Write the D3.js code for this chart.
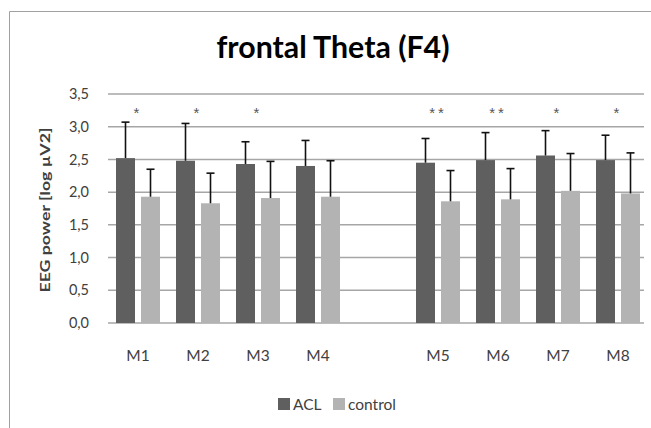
<!DOCTYPE html>
<html>
<head>
<meta charset="utf-8">
<script src="https://cdn.jsdelivr.net/npm/d3@7"></script>
<style>
  body { margin: 0; background: #fff; }
  text { font-family: Lato, "Open Sans", sans-serif; }
</style>
</head>
<body>
<div id="chart"></div>
<script>
// Chart data
const categories = ["M1", "M2", "M3", "M4", "M5", "M6", "M7", "M8"];
const slots = ["M1", "M2", "M3", "M4", "gap", "M5", "M6", "M7", "M8"];
const seriesNames = ["ACL", "control"];
const aclMean = [2.52, 2.48, 2.43, 2.40, 2.45, 2.49, 2.56, 2.49];
const aclSd = [0.55, 0.57, 0.34, 0.39, 0.37, 0.42, 0.38, 0.38];
const controlMean = [1.93, 1.83, 1.91, 1.93, 1.86, 1.89, 2.02, 1.98];
const controlSd = [0.42, 0.46, 0.56, 0.55, 0.47, 0.47, 0.57, 0.62];
const stars = ["*", "*", "*", "", "**", "**", "*", "*"];
const yTicks = [0, 0.5, 1, 1.5, 2, 2.5, 3, 3.5];

const width = 651;
const height = 428;
const plot = {left: 108, right: 648, top: 94, bottom: 323};

const svg = d3.select("#chart")
  .append("svg")
  .attr("width", width)
  .attr("height", height);

// Outer frame (left and top edges)
svg.append("path")
  .attr("d", `M9.5,${height} V11.5 H${width}`)
  .attr("fill", "none")
  .attr("stroke", "#a0a0a0")
  .attr("stroke-width", 1);

// Scales
const x = d3.scaleBand()
  .domain(slots)
  .range([plot.left, plot.right]);

const x1 = d3.scaleBand()
  .domain(seriesNames)
  .range([8, 52])
  .paddingInner(0.24);

const y = d3.scaleLinear()
  .domain([0, 3.5])
  .range([plot.bottom, plot.top]);

const color = d3.scaleOrdinal()
  .domain(seriesNames)
  .range(["#5f5f5f", "#b3b3b3"]);

// Title
svg.append("text")
  .attr("x", 333)
  .attr("y", 58)
  .attr("text-anchor", "middle")
  .attr("textLength", 233)
  .attr("lengthAdjust", "spacingAndGlyphs")
  .style("font-size", "31px")
  .style("font-weight", "bold")
  .attr("fill", "#000")
  .text("frontal Theta (F4)");

// Gridlines
svg.append("g")
  .selectAll("line")
  .data(yTicks)
  .join("line")
  .attr("x1", plot.left)
  .attr("x2", plot.right - 4)
  .attr("y1", d => y(d))
  .attr("y2", d => y(d))
  .attr("stroke", "#a6a6a6")
  .attr("stroke-width", 1.5);

// Y axis labels
svg.append("g")
  .attr("transform", `translate(89,0)`)
  .call(d3.axisLeft(y).tickValues(yTicks).tickSize(0).tickPadding(0)
    .tickFormat(d => d3.format(".1f")(d).replace(".", ",")))
  .call(g => g.select(".domain").remove())
  .call(g => g.selectAll("text")
    .style("font-family", "Lato, sans-serif")
    .style("font-size", "14.5px")
    .attr("fill", "#404040"));

// Y axis title
svg.append("text")
  .attr("transform", "translate(50,210) rotate(-90)")
  .attr("text-anchor", "middle")
  .attr("textLength", 165)
  .attr("lengthAdjust", "spacingAndGlyphs")
  .style("font-size", "14px")
  .style("font-weight", "bold")
  .attr("fill", "#404040")
  .text("EEG power [log µV2]");

// Bar data
const rows = categories.map((c, i) => ({
  cat: c,
  values: [
    {key: "ACL", mean: aclMean[i], sd: aclSd[i]},
    {key: "control", mean: controlMean[i], sd: controlSd[i]}
  ],
  star: stars[i]
}));

const groups = svg.append("g")
  .selectAll("g")
  .data(rows)
  .join("g")
  .attr("transform", d => `translate(${x(d.cat)},0)`);

groups.selectAll("rect")
  .data(d => d.values)
  .join("rect")
  .attr("x", d => x1(d.key))
  .attr("y", d => y(d.mean))
  .attr("width", x1.bandwidth())
  .attr("height", d => y(0) - y(d.mean))
  .attr("fill", d => color(d.key));

// Error bars (upper only)
const err = groups.selectAll("g.err")
  .data(d => d.values)
  .join("g")
  .attr("class", "err")
  .attr("stroke", "#111")
  .attr("stroke-width", 1.6);

err.append("line")
  .attr("x1", d => x1(d.key) + x1.bandwidth() / 2)
  .attr("x2", d => x1(d.key) + x1.bandwidth() / 2)
  .attr("y1", d => y(d.mean))
  .attr("y2", d => y(d.mean + d.sd));

err.append("line")
  .attr("x1", d => x1(d.key) + x1.bandwidth() / 2 - 4)
  .attr("x2", d => x1(d.key) + x1.bandwidth() / 2 + 4)
  .attr("y1", d => y(d.mean + d.sd))
  .attr("y2", d => y(d.mean + d.sd));

// Significance stars
groups.append("text")
  .attr("x", x.bandwidth() / 2)
  .attr("y", 118)
  .attr("text-anchor", "middle")
  .style("font-family", "'Liberation Sans', sans-serif")
  .style("font-size", "15px")
  .attr("fill", "#555")
  .attr("letter-spacing", "3px")
  .text(d => d.star);

// Category labels
svg.append("g")
  .selectAll("text")
  .data(categories)
  .join("text")
  .attr("x", d => x(d) + x.bandwidth() / 2)
  .attr("y", 361)
  .attr("text-anchor", "middle")
  .style("font-size", "15.5px")
  .attr("fill", "#404040")
  .text(d => d);

// Legend
const legend = svg.append("g")
  .attr("transform", "translate(278,398)");

const legendItem = legend.selectAll("g")
  .data(seriesNames)
  .join("g")
  .attr("transform", (_, i) => `translate(${i * 55},0)`);

legendItem.append("rect")
  .attr("width", 12)
  .attr("height", 12)
  .attr("fill", d => color(d));

legendItem.append("text")
  .attr("x", 15)
  .attr("y", 11.5)
  .style("font-size", "15.5px")
  .attr("fill", "#404040")
  .text(d => d);
</script>
</body>
</html>
